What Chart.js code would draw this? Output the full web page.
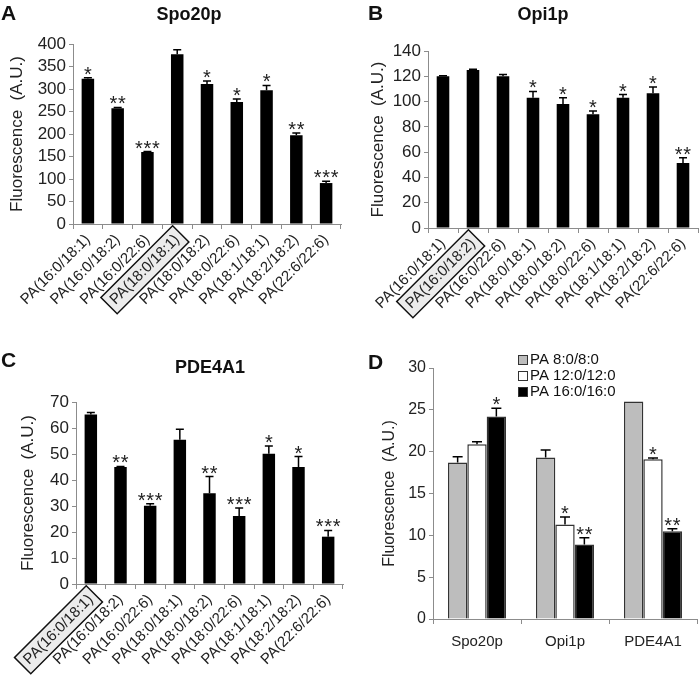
<!DOCTYPE html>
<html>
<head>
<meta charset="utf-8">
<script src="https://cdn.jsdelivr.net/npm/chart.js@4.4.1/dist/chart.umd.min.js"></script>
<style>
  body { margin: 0; background: #fff; }
  #fig { position: relative; width: 700px; height: 684px; font-family: Arial, "Liberation Sans", sans-serif; color: #111; }
  .panel { position: absolute; }
  .tag { position: absolute; font-weight: bold; font-size: 21px; line-height: 21px; }
  .title { position: absolute; font-weight: bold; font-size: 18px; line-height: 18px; transform: translateX(-50%); white-space: nowrap; }
</style>
</head>
<body>
<div id="fig">
  <canvas id="chartA" class="panel" width="350" height="342" style="left:0;top:0"></canvas>
  <canvas id="chartB" class="panel" width="350" height="342" style="left:350px;top:0"></canvas>
  <canvas id="chartC" class="panel" width="350" height="342" style="left:0;top:342px"></canvas>
  <canvas id="chartD" class="panel" width="350" height="342" style="left:350px;top:342px"></canvas>

  <div class="tag" style="left:1px;top:2px">A</div>
  <div class="title" style="left:189px;top:5px">Spo20p</div>
  <div class="tag" style="left:368px;top:2px">B</div>
  <div class="title" style="left:543px;top:5px">Opi1p</div>
  <div class="tag" style="left:1px;top:349px">C</div>
  <div class="title" style="left:210px;top:358px">PDE4A1</div>
  <div class="tag" style="left:368px;top:351px">D</div>
</div>

<script>
// lipid species on the x axis of A, B, C
const lipidLabels = ['PA(16:0/18:1)', 'PA(16:0/18:2)', 'PA(16:0/22:6)', 'PA(18:0/18:1)', 'PA(18:0/18:2)',
                     'PA(18:0/22:6)', 'PA(18:1/18:1)', 'PA(18:2/18:2)', 'PA(22:6/22:6)'];

// A - Spo20p
const spo20pValues = [323, 257, 160, 377, 311, 271, 297, 197, 91];
const spo20pErrors = [2, 2, 1, 10, 7, 7, 11, 5, 4];
const spo20pStars  = ['*', '**', '***', '', '*', '*', '*', '**', '***'];
const spo20pBoxed  = 3;

// B - Opi1p
const opi1pValues = [120, 125, 120, 103, 98, 90, 103, 106.5, 51.5];
const opi1pErrors = [0.5, 0.5, 1.5, 5, 5, 2.5, 2.5, 5, 4];
const opi1pStars  = ['', '', '', '*', '*', '*', '*', '*', '**'];
const opi1pBoxed  = 1;

// C - PDE4A1
const pde4a1Values = [65.2, 45, 30.1, 55.5, 34.9, 26.2, 50.1, 45, 18.2];
const pde4a1Errors = [0.8, 0.2, 0.8, 4, 6.4, 3, 3, 4, 2.4];
const pde4a1Stars  = ['', '**', '***', '', '**', '***', '*', '*', '***'];
const pde4a1Boxed  = 0;

// D - saturated PA of different chain length
const proteinLabels = ['Spo20p', 'Opi1p', 'PDE4A1'];
const seriesNames   = ['PA 8:0/8:0', 'PA 12:0/12:0', 'PA 16:0/16:0'];
const pa8Values  = [18.7, 19.3, 26];
const pa8Errors  = [0.7, 0.9, 0];
const pa8Stars   = ['', '', ''];
const pa12Values = [20.9, 11.3, 19.1];
const pa12Errors = [0.3, 0.9, 0.15];
const pa12Stars  = ['', '*', '*'];
const pa16Values = [24.2, 8.9, 10.5];
const pa16Errors = [1, 0.8, 0.3];
const pa16Stars  = ['*', '**', '**'];

const FONT = 'Arial, "Liberation Sans", sans-serif';
const axisGray = '#8c8c8c';
Chart.defaults.font.family = FONT;
Chart.defaults.color = '#222';

// error bars (upper half only) plus significance stars
const errorBarPlugin = {
  id: 'errorBars',
  afterDatasetsDraw(chart, args, opts) {
    const ctx = chart.ctx;
    const y = chart.scales.y;
    ctx.save();
    chart.data.datasets.forEach((ds, i) => {
      chart.getDatasetMeta(i).data.forEach((bar, j) => {
        const err = ds.errors[j] || 0;
        const top = y.getPixelForValue(ds.data[j] + err);
        if (err > 0) {
          ctx.strokeStyle = '#000';
          ctx.lineWidth = 1.5;
          ctx.beginPath();
          ctx.moveTo(bar.x, bar.y);
          ctx.lineTo(bar.x, top);
          ctx.moveTo(bar.x - opts.cap / 2, top);
          ctx.lineTo(bar.x + opts.cap / 2, top);
          ctx.stroke();
        }
        const s = ds.stars[j];
        if (s) {
          ctx.fillStyle = '#222';
          ctx.font = opts.starSize + 'px ' + FONT;
          ctx.textAlign = 'center';
          ctx.textBaseline = 'alphabetic';
          for (let k = 0; k < s.length; k++) {
            ctx.fillText('*', bar.x + (k - (s.length - 1) / 2) * opts.starGap, top + opts.starLift);
          }
        }
      });
    });
    ctx.restore();
  }
};

// grey box behind the reference tick label
const boxedLabelPlugin = {
  id: 'boxedLabel',
  beforeDraw(chart, args, opts) {
    if (opts.index == null) return;
    const scale = chart.scales.x;
    const item = scale.getLabelItems()[opts.index];
    if (!item) return;
    const ctx = chart.ctx;
    const o = item.options;
    ctx.save();
    ctx.translate(o.translation[0], o.translation[1]);
    ctx.rotate(o.rotation);
    ctx.font = item.font.string;
    const w = ctx.measureText(item.label).width;
    const h = item.font.size;
    const x0 = -w - 5, x1 = 5;
    const y0 = item.textOffset - h / 2 - 4, y1 = item.textOffset + h / 2 + 4;
    ctx.fillStyle = '#ececec';
    ctx.fillRect(x0, y0, x1 - x0, y1 - y0);
    ctx.strokeStyle = '#111';
    ctx.lineWidth = 1.5;
    ctx.strokeRect(x0, y0, x1 - x0, y1 - y0);
    ctx.restore();
  }
};

// stacked legend in the corner of D
const cornerLegendPlugin = {
  id: 'cornerLegend',
  afterDraw(chart, args, opts) {
    if (!opts.show) return;
    const ctx = chart.ctx;
    ctx.save();
    chart.data.datasets.forEach((ds, i) => {
      const cy = opts.y + i * opts.row;
      ctx.fillStyle = ds.backgroundColor;
      ctx.fillRect(opts.x, cy - 5, 10, 10);
      ctx.strokeStyle = '#333';
      ctx.lineWidth = 1;
      ctx.strokeRect(opts.x + 0.5, cy - 4.5, 9, 9);
      ctx.fillStyle = '#111';
      ctx.font = '15px ' + FONT;
      ctx.textAlign = 'left';
      ctx.textBaseline = 'middle';
      ctx.fillText(ds.label, opts.x + 12, cy);
    });
    ctx.restore();
  }
};

function yAxis(max, step, geom) {
  return {
    min: 0, max: max,
    ticks: { stepSize: step, autoSkip: false, font: { size: geom.tickSize }, color: '#222', padding: 3 },
    grid: { drawOnChartArea: false, tickLength: 4, color: axisGray },
    border: { color: axisGray },
    title: { display: true, text: 'Fluorescence  (A.U.)', font: { size: geom.titleSize }, color: '#222',
             padding: { top: geom.titlePad, bottom: 0 } },
    afterFit: s => { s.width = geom.left; }
  };
}

function makeLipidChart(id, values, errors, stars, boxed, max, step, geom) {
  return new Chart(document.getElementById(id), {
    type: 'bar',
    data: {
      labels: lipidLabels,
      datasets: [{ data: values, errors: errors, stars: stars, backgroundColor: '#000', borderWidth: 0,
                   barPercentage: 0.42, categoryPercentage: 1 }]
    },
    options: {
      responsive: false,
      animation: false,
      layout: { padding: { left: 0, top: geom.top, right: geom.right, bottom: 0 } },
      plugins: {
        legend: { display: false },
        tooltip: { enabled: false },
        errorBars: { cap: 8, starSize: 20, starGap: 8.5, starLift: 3 },
        boxedLabel: { index: boxed }
      },
      scales: {
        x: {
          grid: { drawOnChartArea: false, tickLength: 5, color: axisGray, offset: true },
          border: { color: axisGray },
          ticks: { autoSkip: false, minRotation: 45, maxRotation: 45, font: { size: 15 }, color: '#222', padding: 2 },
          afterFit: s => { s.height = geom.xHeight; s.paddingLeft = 0; s.paddingRight = 0; }
        },
        y: yAxis(max, step, geom)
      }
    },
    plugins: [errorBarPlugin, boxedLabelPlugin]
  });
}

makeLipidChart('chartA', spo20pValues, spo20pErrors, spo20pStars, spo20pBoxed, 400, 50,
  { left: 73, top: 44, right: 9, xHeight: 118, tickSize: 17, titleSize: 17, titlePad: 7 });
makeLipidChart('chartB', opi1pValues, opi1pErrors, opi1pStars, opi1pBoxed, 140, 20,
  { left: 78, top: 51, right: 2, xHeight: 114, tickSize: 17, titleSize: 17, titlePad: 18 });
makeLipidChart('chartC', pde4a1Values, pde4a1Errors, pde4a1Stars, pde4a1Boxed, 70, 10,
  { left: 76, top: 60, right: 7, xHeight: 100, tickSize: 17, titleSize: 17, titlePad: 18 });

const dGeom = { left: 83, top: 26, right: 3, xHeight: 65, tickSize: 16, titleSize: 16, titlePad: 30 };
new Chart(document.getElementById('chartD'), {
  type: 'bar',
  data: {
    labels: proteinLabels,
    datasets: [
      { label: seriesNames[0], data: pa8Values, errors: pa8Errors, stars: pa8Stars, backgroundColor: '#bdbdbd' },
      { label: seriesNames[1], data: pa12Values, errors: pa12Errors, stars: pa12Stars, backgroundColor: '#ffffff' },
      { label: seriesNames[2], data: pa16Values, errors: pa16Errors, stars: pa16Stars, backgroundColor: '#000000' }
    ].map(d => Object.assign(d, { borderColor: '#333', borderWidth: 1.5, barPercentage: 1, categoryPercentage: 0.66 }))
  },
  options: {
    responsive: false,
    animation: false,
    layout: { padding: { left: 0, top: dGeom.top, right: dGeom.right, bottom: 0 } },
    plugins: {
      legend: { display: false },
      tooltip: { enabled: false },
      errorBars: { cap: 10, starSize: 20, starGap: 8.5, starLift: 3 },
      cornerLegend: { show: true, x: 168, y: 18, row: 16 }
    },
    scales: {
      x: {
        grid: { drawOnChartArea: false, tickLength: 5, color: axisGray, offset: true },
        border: { color: axisGray },
        ticks: { maxRotation: 0, font: { size: 15 }, color: '#222', padding: 9 },
        afterFit: s => { s.height = dGeom.xHeight; s.paddingLeft = 0; s.paddingRight = 0; }
      },
      y: yAxis(30, 5, dGeom)
    }
  },
  plugins: [errorBarPlugin, cornerLegendPlugin]
});
</script>
</body>
</html>
